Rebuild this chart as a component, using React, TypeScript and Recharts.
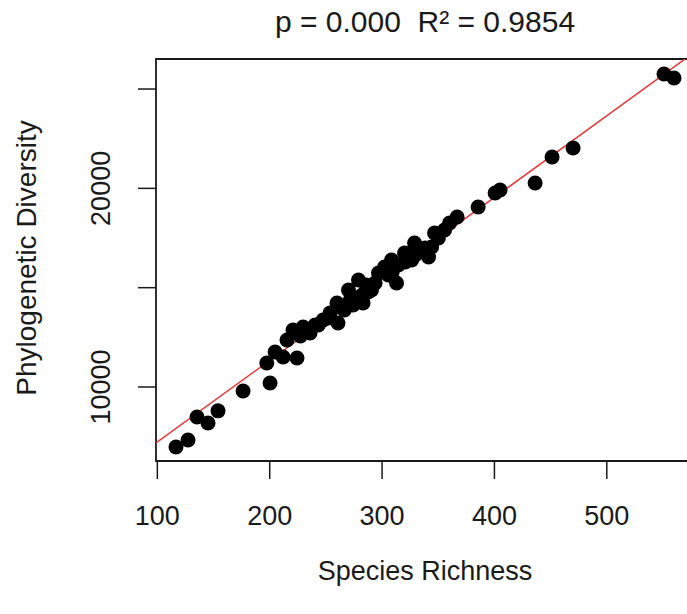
import { ScatterChart, Scatter, XAxis, YAxis, ReferenceLine, ReferenceArea } from "recharts";

// values
const speciesRichness = [
  116.6, 127.3, 135.3, 145.1, 154.0, 176.3, 200.3, 197.4, 204.8, 211.9,
  215.4, 224.3, 220.7, 229.7, 235.9, 247.5, 253.7, 260.8, 259.9, 274.2,
  283.1, 270.1, 279.0, 296.8, 290.6, 302.2, 312.9, 308.4, 320.0, 326.3,
  328.9, 341.4, 344.1, 346.7, 355.6, 360.1, 366.8, 385.5, 400.6, 405.0,
  436.2, 451.3, 470.0, 550.9, 559.8, 227.3, 243.3, 266.4, 271.7, 282.4,
  286.0, 305.6, 314.5, 334.1, 350.1, 240.4, 252.0, 264.4, 276.9, 287.6,
  293.8, 309.0, 320.6, 329.5, 338.4,
];
const phyloDiversity = [
  6980, 7332, 8490, 8188, 8800, 9799, 10201, 11208, 11762, 11510,
  12366, 11460, 12869, 13020, 12718, 13373, 13725, 13222, 14229, 14128,
  14229, 14883, 15386, 15739, 14883, 16041, 15235, 16393, 16746, 16393,
  17249, 16544, 17048, 17752, 17903, 18256, 18558, 19061, 19766, 19917,
  20270, 21578, 22031, 25756, 25555, 12567, 13121, 13876, 14380, 14631,
  15134, 15638, 16141, 16896, 17501, 13121, 13473, 13977, 14480, 14782,
  15235, 15789, 16293, 16645, 16997,
];

const xTicks = [100, 200, 300, 400, 500];
const yTicks = [10000, 15000, 20000, 25000];
const yTickLabels = ["10000", "", "20000", ""];

const fitIntercept = 3124;
const fitSlope = 41.06;

const xDomain: [number, number] = [98.8, 578.5];
const yDomain: [number, number] = [6275, 26512];

const titleText = "p = 0.000  R² = 0.9854";
const xLabel = "Species Richness";
const yLabel = "Phylogenetic Diversity";

const points = speciesRichness.map((x, i) => ({ x, y: phyloDiversity[i] }));

const FONT = "'Liberation Sans', Arial, sans-serif";
const FS = 27;
const INK = "#1a1a1a";

const YTick = (props: any) => {
  const { x, y, payload } = props;
  const idx = yTicks.indexOf(payload.value);
  const label = idx >= 0 ? yTickLabels[idx] : "";
  if (!label) return null;
  return (
    <text
      x={x}
      y={y}
      transform={`rotate(-90, ${x}, ${y})`}
      textAnchor="middle"
      fontFamily={FONT}
      fontSize={FS}
      fill={INK}
    >
      {label}
    </text>
  );
};

const Dot = (props: any) => <circle cx={props.cx} cy={props.cy} r={7.5} fill="#000" />;

export default function App() {
  return (
    <div
      style={{
        position: "absolute",
        left: 0,
        top: 0,
        width: 687,
        height: 614,
        overflow: "hidden",
        background: "#fff",
      }}
    >
      <svg width={687} height={614} style={{ position: "absolute", left: 0, top: 0 }}>
        <text
          x={425}
          y={32}
          textAnchor="middle"
          fontFamily={FONT}
          fontSize={30}
          fill={INK}
          style={{ whiteSpace: "pre" }}
        >
          {titleText}
        </text>
        <text x={425} y={580} textAnchor="middle" fontFamily={FONT} fontSize={FS} fill={INK}>
          {xLabel}
        </text>
        <text
          x={36}
          y={258}
          transform="rotate(-90, 36, 258)"
          textAnchor="middle"
          fontFamily={FONT}
          fontSize={28}
          fill={INK}
        >
          {yLabel}
        </text>
      </svg>
      <div style={{ position: "absolute", left: 0, top: 0 }}>
        <ScatterChart
          width={700}
          height={614}
          margin={{ top: 59, right: 5, bottom: 123, left: 96 }}
        >
          <XAxis
            type="number"
            dataKey="x"
            domain={xDomain}
            ticks={xTicks}
            allowDataOverflow
            height={30}
            axisLine={false}
            tickLine={{ stroke: INK, strokeWidth: 1.5 }}
            tickSize={18}
            tickMargin={27}
            tick={{ fontFamily: FONT, fontSize: FS, fill: INK }}
          />
          <YAxis
            type="number"
            dataKey="y"
            domain={yDomain}
            ticks={yTicks}
            allowDataOverflow
            width={60}
            axisLine={false}
            tickLine={{ stroke: INK, strokeWidth: 1.5 }}
            tickSize={18}
            tickMargin={28}
            tick={<YTick />}
          />
          <ReferenceArea
            x1={xDomain[0]}
            x2={xDomain[1]}
            y1={yDomain[0]}
            y2={yDomain[1]}
            fill="none"
            stroke={INK}
            strokeWidth={1.8}
            ifOverflow="visible"
          />
          <Scatter data={points} fill="#000" shape={<Dot />} isAnimationActive={false} />
          <ReferenceLine
            segment={[
              { x: xDomain[0], y: fitIntercept + fitSlope * xDomain[0] },
              { x: xDomain[1], y: fitIntercept + fitSlope * xDomain[1] },
            ]}
            stroke="#e0393a"
            strokeWidth={1.5}
            ifOverflow="hidden"
          />
        </ScatterChart>
      </div>
    </div>
  );
}
